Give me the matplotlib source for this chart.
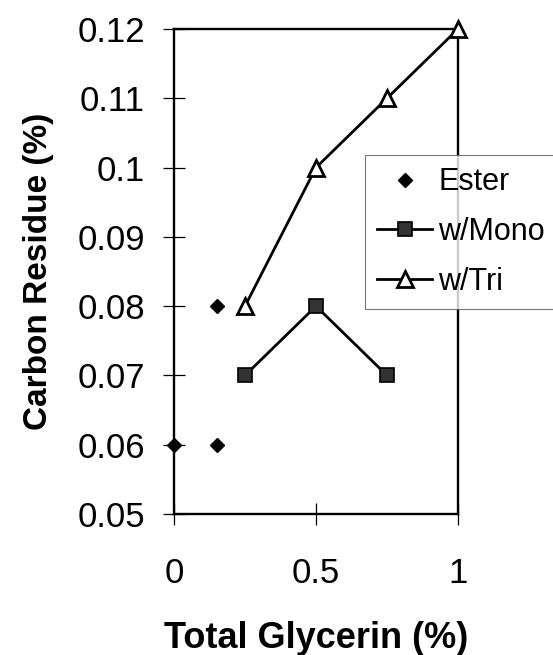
import matplotlib
matplotlib.use("Agg")
import matplotlib.pyplot as plt

# data
ester_x = [0.0, 0.15, 0.15]
ester_y = [0.06, 0.06, 0.08]
mono_x = [0.25, 0.5, 0.75]
mono_y = [0.07, 0.08, 0.07]
tri_x = [0.25, 0.5, 0.75, 1.0]
tri_y = [0.08, 0.10, 0.11, 0.12]

x_ticks = [0, 0.5, 1]
x_tick_labels = ["0", "0.5", "1"]
y_ticks = [0.05, 0.06, 0.07, 0.08, 0.09, 0.10, 0.11, 0.12]
y_tick_labels = ["0.05", "0.06", "0.07", "0.08", "0.09", "0.1", "0.11", "0.12"]

plt.rcParams["font.family"] = ["Liberation Sans", "DejaVu Sans"]

fig = plt.figure(figsize=(5.53, 6.55), dpi=100)
ax = fig.add_axes([174 / 553, 1 - 514 / 655, 284 / 553, 485 / 655])

ax.plot(ester_x, ester_y, linestyle="none", marker="D", markersize=7.5,
        color="black", label="Ester", clip_on=False, zorder=4)
ax.plot(mono_x, mono_y, color="black", linewidth=2.0, marker="s", markersize=10.5,
        markerfacecolor="#333333", markeredgecolor="black", markeredgewidth=1.2,
        label="w/Mono", clip_on=False, zorder=3)
ax.plot(tri_x, tri_y, color="black", linewidth=2.0, marker="^", markersize=11,
        markerfacecolor="white", markeredgecolor="black", markeredgewidth=2.0,
        label="w/Tri", clip_on=False, zorder=3)

ax.set_xlim(0, 1)
ax.set_ylim(0.05, 0.12)
ax.set_xticks(x_ticks)
ax.set_xticklabels(x_tick_labels)
ax.set_yticks(y_ticks)
ax.set_yticklabels(y_tick_labels)
ax.tick_params(axis="both", direction="inout", length=16, width=0.9,
               labelsize=25, colors="black")
ax.tick_params(axis="x", pad=23)
ax.tick_params(axis="y", pad=13)
for sp in ax.spines.values():
    sp.set_linewidth(1.7)
    sp.set_color("black")

ax.set_xlabel("Total Glycerin (%)", fontsize=26, fontweight="bold", labelpad=22)
ax.set_ylabel("Carbon Residue (%)", fontsize=24, fontweight="bold", labelpad=17)

leg = fig.legend(loc="upper left", bbox_to_anchor=(365 / 553, 1 - 155 / 655),
                 fontsize=22, frameon=True, fancybox=False, handlelength=1.8,
                 handletextpad=0.2, labelspacing=0.65, borderpad=0.4,
                 borderaxespad=0.0)
leg.get_frame().set_edgecolor("#555555")
leg.get_frame().set_linewidth(0.8)

fig.savefig("out.png", dpi=100)
